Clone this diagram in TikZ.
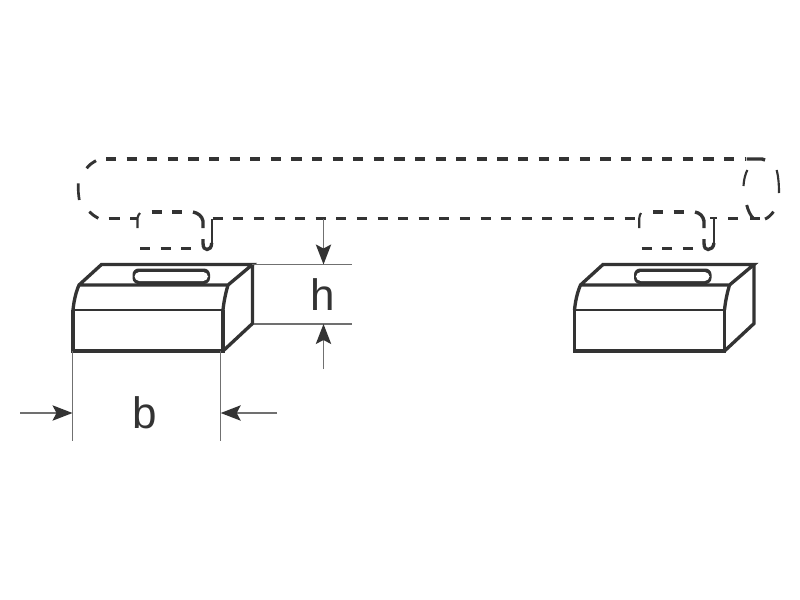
\documentclass[tikz,border=0pt]{standalone}
\usepackage{fontspec}
\setmainfont{Liberation Sans}
\usetikzlibrary{arrows.meta}
\definecolor{ink}{HTML}{333333}
\definecolor{thin}{HTML}{707070}
\tikzset{
  heavy/.style={draw=ink,line width=2.5pt,line join=miter},
  medium/.style={draw=ink,line width=1.7pt},
  ghost/.style={draw=ink,line width=2.5pt,dash pattern=on 7.6pt off 7.85pt},
  solidghost/.style={draw=ink,line width=2.5pt},
  ghostthin/.style={draw=ink,line width=1.6pt},
  dimline/.style={draw=thin,line width=1.1pt},
  dimarrow/.style={draw=thin,line width=1.1pt,-{Stealth[length=15pt,width=11.5pt,inset=3pt,color=ink]}},
  dimtext/.style={font=\fontsize{33}{33}\selectfont,text=ink,inner sep=0pt},
  slotband/.style={fill=ink,rounded corners=4.5pt},
  slot/.style={fill=white,rounded corners=3.6pt}
}
\newcommand{\blockat}[2]{%
  \begin{scope}[xshift=#1*0.75pt]
    \draw[heavy] (73,310) -- (73,351) -- (223,351) -- (223,310);
    \draw[heavy] (223,351) -- (252.5,323.5) -- (252.5,264.5);
    \draw[heavy] (73,310) .. controls (74,300) and (76,292) .. (79,285) -- (101.5,264.5) -- (252.5,264.5) -- (228,285) -- (79,285);
    \draw[heavy] (223,310) .. controls (224,300) and (226,292) .. (228,285);
    \draw[medium] (73,310) -- (223,310);
    \path[slotband] (132.5,268.5) rectangle (210,284);
    \path[slot] (134.5,272) rectangle (208,281);
  \end{scope}%
}
\begin{document}
\begin{tikzpicture}[x=0.75pt,y=-0.75pt]
\useasboundingbox (0,0) rectangle (800,600);
\fill[white] (0,0) rectangle (800,600);
% blocks
\blockat{0}{}
\blockat{501.5}{}
% bar outline, top and bottom runs
\draw[ghost] (106,159) -- (745,159);
\draw[solidghost] (746.5,159) -- (762,159) -- (765,160);
\draw[ghost] (212.7,218.5) -- (640,218.5);
\draw[solidghost] (728,218.5) -- (738,218.5);
\draw[solidghost] (750,218.5) -- (760,218.5);
\draw[solidghost] (108.5,218.5) -- (119.5,218.5);
\draw[solidghost] (130,218.5) -- (137,218.5);
% left end of the bar
\draw[ghostthin,line width=2.2pt] (86.7,168.3) .. controls (89,165) and (92,163) .. (96,160.7);
\draw[ghostthin,line width=2pt] (78.3,183.3) .. controls (78,190) and (78.5,195) .. (79.3,200);
\draw[ghostthin,line width=2.2pt] (89.3,211.7) .. controls (92,214.5) and (95,216.5) .. (98.3,218.3);
% right end of the bar
\draw[ghostthin] (743.5,186) .. controls (743.8,180) and (745,175) .. (747.3,170);
\draw[ghostthin] (776.7,170) .. controls (778.5,177) and (779,185) .. (779,193);
\draw[ghostthin,line width=2.2pt] (746.7,205) .. controls (748,210) and (750,215) .. (753.5,218.5);
\draw[ghostthin,line width=2.2pt] (765,219) .. controls (768,218) and (771,215) .. (773.5,211.7);
% left lug
\draw[ghostthin] (137.5,228) -- (137.5,218) .. controls (138,216) and (138.5,214.5) .. (140,213);
\draw[ghost] (151.7,212) -- (185,212);
\draw[solidghost] (193,212) .. controls (198,213) and (202,216) .. (203,221) -- (203,228);
\draw[solidghost] (203,239) -- (203,243) .. controls (203,248) and (205,249.5) .. (207,249.5) .. controls (209.5,249.5) and (211.5,247.5) .. (211.7,243);
\draw[ghostthin] (211.7,245) -- (211.7,219);
\draw[ghost] (140,248.5) -- (192,248.5);
% right lug
\draw[ghostthin] (639.3,228) -- (639.3,218) .. controls (639.5,216) and (640,214.5) .. (641,213);
\draw[ghost] (653,212) -- (686,212);
\draw[solidghost] (695,212) .. controls (700,213) and (703,216) .. (704,221) -- (704,228);
\draw[solidghost] (704,239) -- (704,243) .. controls (704,248) and (706,249.5) .. (708,249.5) .. controls (711,249.5) and (713.5,247.5) .. (714,243);
\draw[ghostthin] (714,245) -- (714,219);
\draw[ghostthin,line width=2pt] (710,218) -- (716.7,218);
\draw[ghost] (641.7,248.5) -- (693,248.5);
% dimension h
\coordinate (hTopL) at (252,264.5);
\coordinate (hTopR) at (352,264.5);
\coordinate (hBotL) at (254,324);
\coordinate (hBotR) at (352,324);
\coordinate (hArrowTopStart) at (323.5,219);
\coordinate (hArrowTopEnd) at (323.5,264.5);
\coordinate (hArrowBotStart) at (323.5,369);
\coordinate (hArrowBotEnd) at (323.5,324);
\draw[dimline] (hTopL) -- (hTopR);
\draw[dimline] (hBotL) -- (hBotR);
\draw[dimarrow] (hArrowTopStart) -- (hArrowTopEnd);
\draw[dimarrow] (hArrowBotStart) -- (hArrowBotEnd);
\node[dimtext] (hLabel) at (322.5,295) {h};
% dimension b
\coordinate (bLeftTop) at (72.5,351);
\coordinate (bLeftBot) at (72.5,441);
\coordinate (bRightTop) at (220.7,351);
\coordinate (bRightBot) at (220.7,441);
\coordinate (bArrowLStart) at (20,413);
\coordinate (bArrowLEnd) at (72.5,413);
\coordinate (bArrowRStart) at (277,413);
\coordinate (bArrowREnd) at (220.7,413);
\draw[dimline] (bLeftTop) -- (bLeftBot);
\draw[dimline] (bRightTop) -- (bRightBot);
\draw[dimarrow] (bArrowLStart) -- (bArrowLEnd);
\draw[dimarrow] (bArrowRStart) -- (bArrowREnd);
\node[dimtext] (bLabel) at (144.5,413) {b};
\end{tikzpicture}
\end{document}
